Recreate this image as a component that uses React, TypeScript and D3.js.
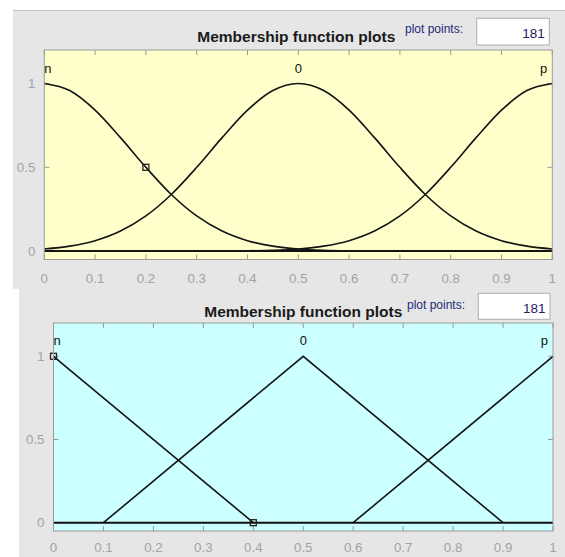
import React from "react";
import * as d3 from "d3";

// ---- data ----
const xTicks = [0, 0.1, 0.2, 0.3, 0.4, 0.5, 0.6, 0.7, 0.8, 0.9, 1];
const xTickLabels = ["0", "0.1", "0.2", "0.3", "0.4", "0.5", "0.6", "0.7", "0.8", "0.9", "1"];
const yTicks = [0, 0.5, 1];
const yTickLabels = ["0", "0.5", "1"];
const mfNames = ["n", "0", "p"];
const mfPeaks = [0, 0.5, 1];
const titleText = "Membership function plots";
const plotPointsLabel = "plot points:";
const plotPointsValue = "181";

// Gaussian panel: samples read at x = 0, 0.05, ..., 1
const gaussX = [0, 0.05, 0.1, 0.15, 0.2, 0.25, 0.3, 0.35, 0.4, 0.45, 0.5, 0.55, 0.6, 0.65, 0.7, 0.75, 0.8, 0.85, 0.9, 0.95, 1];
const gaussN = [1, 0.958, 0.841, 0.677, 0.5, 0.338, 0.21, 0.12, 0.0625, 0.03, 0.013, 0.0053, 0.002, 0.0007, 0.0002, 0, 0, 0, 0, 0, 0];
const gaussZ = [0.013, 0.03, 0.0625, 0.12, 0.21, 0.338, 0.5, 0.677, 0.841, 0.958, 1, 0.958, 0.841, 0.677, 0.5, 0.338, 0.21, 0.12, 0.0625, 0.03, 0.013];
const gaussP = [0, 0, 0, 0, 0, 0, 0.0002, 0.0007, 0.002, 0.0053, 0.013, 0.03, 0.0625, 0.12, 0.21, 0.338, 0.5, 0.677, 0.841, 0.958, 1];
const gaussMarker = [[0.2, 0.5]];

// Triangular panel: vertices
const triNX = [0, 0.4];
const triNY = [1, 0];
const triZX = [0.1, 0.5, 0.9];
const triZY = [0, 1, 0];
const triPX = [0.6, 1];
const triPY = [0, 1];
const triMarkers = [[0, 1], [0.4, 0]];

type Pt = [number, number];
const zip = (xs: number[], ys: number[]): Pt[] => xs.map((x, i) => [x, ys[i]] as Pt);

const FONT = "'Liberation Sans', Arial, Helvetica, sans-serif";

interface PanelCfg {
  panelX: number; panelY: number; panelB: number;
  x0: number; x1: number; yT: number; yB: number;
  bg: string;
  series: Pt[][];
  smooth: boolean;
  markers: number[][];
  titleY: number; titleDx: number;
  boxX: number; boxY: number; boxW: number; boxH: number;
  ppY: number; valY: number; ppX: number;
  xlabDy: number;
  topBorder: boolean;
}

const panels: PanelCfg[] = [
  {
    panelX: 13, panelY: 10, panelB: 289,
    x0: 44.3, x1: 552.3, yT: 50, yB: 259.5,
    bg: "#ffffcc",
    series: [zip(gaussX, gaussN), zip(gaussX, gaussZ), zip(gaussX, gaussP)],
    smooth: true,
    markers: gaussMarker,
    titleY: 41.7, titleDx: -2,
    boxX: 476.7, boxY: 18.3, boxW: 72.6, boxH: 26.7,
    ppY: 33.3, valY: 37.5, ppX: 405,
    xlabDy: 23,
    topBorder: true,
  },
  {
    panelX: 19, panelY: 289, panelB: 557,
    x0: 53.5, x1: 553, yT: 323, yB: 531,
    bg: "#ccffff",
    series: [zip(triNX, triNY), zip(triZX, triZY), zip(triPX, triPY)],
    smooth: false,
    markers: triMarkers,
    titleY: 316.7, titleDx: 0,
    boxX: 478.3, boxY: 293.3, boxW: 71.7, boxH: 26,
    ppY: 308.5, valY: 312.5, ppX: 407,
    xlabDy: 20.5,
    topBorder: false,
  },
];

function Panel({ c }: { c: PanelCfg }) {
  const x = d3.scaleLinear().domain([0, 1]).range([c.x0, c.x1]);
  const y = d3.scaleLinear().domain([-0.05, 1.2]).range([c.yB, c.yT]);
  const line = d3
    .line<Pt>()
    .x((d) => x(d[0]))
    .y((d) => y(d[1]))
    .curve(c.smooth ? d3.curveMonotoneX : d3.curveLinear);
  const axisGrey = "#9a9a9a";
  const labelGrey = "#a3a3a3";
  const tl = 5;
  const cx = (c.x0 + c.x1) / 2 + c.titleDx;
  return (
    <g>
      <rect x={c.panelX} y={c.panelY} width={565 - c.panelX} height={c.panelB - c.panelY} fill="#e6e6e6" />
      {c.topBorder && (
        <line x1={c.panelX} x2={565} y1={c.panelY + 0.5} y2={c.panelY + 0.5} stroke="#c4c4c4" strokeWidth={1} />
      )}
      <rect x={c.x0} y={c.yT} width={c.x1 - c.x0} height={c.yB - c.yT} fill={c.bg} />
      {xTicks.map((t, i) => (
        <g key={"xt" + i}>
          <line x1={x(t)} x2={x(t)} y1={c.yB} y2={c.yB - tl} stroke={axisGrey} />
          <line x1={x(t)} x2={x(t)} y1={c.yT} y2={c.yT + tl} stroke={axisGrey} />
          <text x={x(t)} y={c.yB + c.xlabDy} textAnchor="middle" fontFamily={FONT} fontSize={13.3} fill={labelGrey}>
            {xTickLabels[i]}
          </text>
        </g>
      ))}
      {yTicks.map((t, i) => (
        <g key={"yt" + i}>
          <line x1={c.x0} x2={c.x0 + tl} y1={y(t)} y2={y(t)} stroke={axisGrey} />
          <line x1={c.x1} x2={c.x1 - tl} y1={y(t)} y2={y(t)} stroke={axisGrey} />
          <text x={c.x0 - 9} y={y(t) + 4.7} textAnchor="end" fontFamily={FONT} fontSize={13.3} fill={labelGrey}>
            {yTickLabels[i]}
          </text>
        </g>
      ))}
      <line x1={x(0)} x2={x(1)} y1={y(0)} y2={y(0)} stroke="#111" strokeWidth={2} />
      {c.series.map((s, i) => (
        <path key={"s" + i} d={line(s) || ""} fill="none" stroke="#141414" strokeWidth={1.6} />
      ))}
      {c.markers.map((m, i) => (
        <rect key={"m" + i} x={x(m[0]) - 3} y={y(m[1]) - 3} width={6} height={6} fill="none" stroke="#222" strokeWidth={1.3} />
      ))}
      <rect x={c.x0} y={c.yT} width={c.x1 - c.x0} height={c.yB - c.yT} fill="none" stroke={axisGrey} strokeWidth={1} />
      {mfNames.map((n, i) => (
        <text
          key={"n" + i}
          x={i === 2 ? x(mfPeaks[i]) - 5 : x(mfPeaks[i])}
          y={y(1) - 11}
          textAnchor={i === 0 ? "start" : i === 2 ? "end" : "middle"}
          fontFamily={FONT}
          fontSize={13}
          fill="#111"
        >
          {n}
        </text>
      ))}
      <text x={cx} y={c.titleY} textAnchor="middle" fontFamily={FONT} fontSize={15.5} fontWeight="bold" fill="#1a1a1a">
        {titleText}
      </text>
      <text x={c.ppX} y={c.ppY} fontFamily={FONT} fontSize={12} fill="#1c2a78">
        {plotPointsLabel}
      </text>
      <rect x={c.boxX} y={c.boxY} width={c.boxW} height={c.boxH} fill="#ffffff" stroke="#adadad" strokeWidth={1} />
      <text x={c.boxX + c.boxW - 4.5} y={c.valY} textAnchor="end" fontFamily={FONT} fontSize={13.5} fill="#2a2060">
        {plotPointsValue}
      </text>
    </g>
  );
}

export default function App() {
  return (
    <svg
      width={565}
      height={557}
      viewBox="0 0 565 557"
      style={{ position: "absolute", left: 0, top: 0, background: "#ffffff" }}
    >
      <rect x={0} y={0} width={565} height={557} fill="#ffffff" />
      {panels.map((p, i) => (
        <Panel key={i} c={p} />
      ))}
    </svg>
  );
}
